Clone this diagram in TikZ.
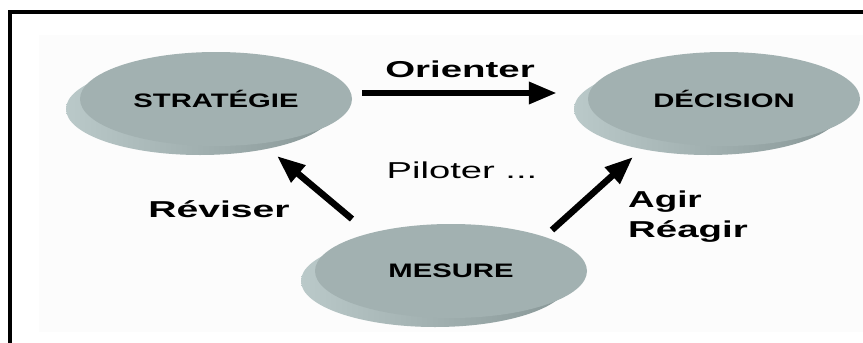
\documentclass[tikz,border=0pt]{standalone}
\usepackage{fontspec}
\usepackage{graphicx}
\setmainfont{Liberation Sans}
\usetikzlibrary{arrows.meta,shapes.geometric}

\definecolor{disctop}{RGB}{162,177,177}
\definecolor{discside}{RGB}{136,151,151}
\definecolor{discedge}{RGB}{186,201,201}
\definecolor{panel}{RGB}{252,252,252}

% horizontally widened text
\newcommand\widetext[2]{\scalebox{#1}[1]{#2}}

\begin{document}
\begin{tikzpicture}[x=1pt,y=-1pt,
  disc/.style={ellipse, fill=disctop, minimum width=272pt, minimum height=94pt,
    inner sep=0pt, font=\fontsize{19.5}{22}\selectfont\bfseries},
  lbl/.style={inner sep=0pt, anchor=base, font=\fontsize{23}{28}\selectfont\bfseries},
  plain/.style={inner sep=0pt, anchor=base, font=\fontsize{23}{28}\selectfont},
  bigarrow/.style={line width=6.5pt, -{Triangle[length=28pt,width=21pt]}}]

\useasboundingbox (0,0) rectangle (863,343);
\fill[white] (0,0) rectangle (863,343);
\fill[panel] (39,35) rectangle (863,332);

% frame (only left and top edges visible)
\draw[line width=4pt] (9.5,343) -- (9.5,11.5) -- (863,11.5);

% disc centres
\coordinate (cs) at (216,99);
\coordinate (cd) at (724,99);
\coordinate (cm) at (451,271);

% thickness of the discs
\foreach \c in {cs,cd,cm}
  \shade[left color=discedge, right color=discside]
    ([shift={(-16,10)}]\c) ellipse [x radius=134pt, y radius=46pt];

\node[disc] (strat) at (cs) {\widetext{1.5}{STRATÉGIE}};
\node[disc] (deci)  at (cd) {\widetext{1.5}{DÉCISION}};
\node[disc] (mesu)  at (cm) {\widetext{1.5}{MESURE}};

% arrows
\draw[bigarrow] ([yshift=6pt]strat.east) -- ([yshift=6pt]deci.west)
  [shorten <=10pt, shorten >=31pt];
\draw[bigarrow] ([shift={(-99,-52)}]mesu.center) -- ([shift={(61,57)}]strat.center);
\draw[bigarrow] ([shift={(101,-41)}]mesu.center) -- ([shift={(-91,58)}]deci.center);

% labels
\node[lbl]   (orienter) at (460,77)  {\widetext{1.67}{Orienter}};
\node[plain] (piloter)  at (462,178) {\widetext{1.66}{Piloter ...}};
\node[lbl]   (reviser)  at (219,217) {\widetext{1.7}{Réviser}};
\node[lbl, anchor=base west] (agir)   at (628,207) {\widetext{1.6}{Agir}};
\node[lbl, anchor=base west] (reagir) at (628,237) {\widetext{1.67}{Réagir}};
\end{tikzpicture}
\end{document}
